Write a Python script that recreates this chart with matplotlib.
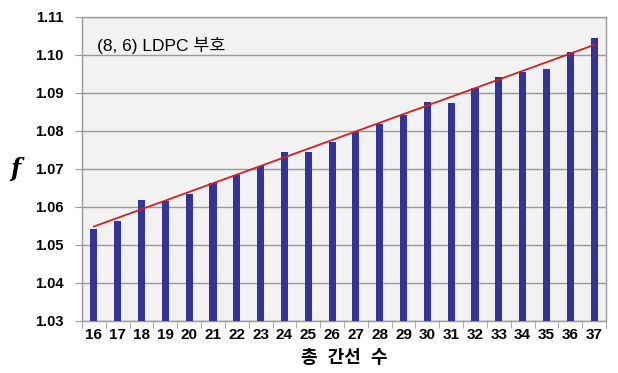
import numpy as np
import matplotlib
matplotlib.use('Agg')
import matplotlib.pyplot as plt

plt.rcParams['font.family'] = ['Liberation Sans', 'Noto Sans CJK KR']

# total number of edges vs. f for the (8, 6) LDPC code
edges = list(range(16, 38))
f_vals = [1.0542, 1.0563, 1.0619, 1.0617, 1.0635, 1.0664, 1.0683, 1.0709,
          1.0744, 1.0746, 1.0771, 1.0797, 1.0818, 1.0842, 1.0876, 1.0874,
          1.0913, 1.0942, 1.0954, 1.0963, 1.1009, 1.1045]
yticks = [1.03, 1.04, 1.05, 1.06, 1.07, 1.08, 1.09, 1.10, 1.11]

fig = plt.figure(figsize=(6.18, 3.73), dpi=100)
ax = fig.add_axes([82 / 618, 1 - 321 / 373, (606 - 82) / 618, (321 - 17) / 373])
ax.set_facecolor('#f2f2f2')

x = np.arange(len(edges))
ax.bar(x, f_vals, width=0.3, bottom=0, color='#333399', zorder=3)

# linear trend line over the bars
k, b = np.polyfit(x, f_vals, 1)
ax.plot(x, k * x + b, color='#d42020', lw=1.3, zorder=4)

ax.set_ylim(1.03, 1.11)
ax.set_xlim(-0.5, len(edges) - 0.5)
ax.set_yticks(yticks)
ax.set_yticklabels([f'{v:.2f}' for v in yticks], fontweight='bold', fontsize=10.5)
ax.yaxis.grid(True, color='#999999', lw=1.0, zorder=1)

# category labels centred, tick marks on category boundaries
ax.set_xticks(x)
ax.set_xticklabels([str(e) for e in edges], fontweight='bold', fontsize=11)
ax.tick_params(axis='x', length=0, pad=5)
ax.set_xticks(np.arange(-0.5, len(edges)), minor=True)
ax.tick_params(axis='x', which='minor', length=5, color='#999999')
ax.tick_params(axis='y', length=5, color='#999999', pad=8)

for side in ['left', 'bottom', 'right', 'top']:
    ax.spines[side].set_color('#999999')
    ax.spines[side].set_linewidth(1.0)

ax.text(0.028, 0.905, '(8, 6) LDPC 부호', transform=ax.transAxes, fontsize=12.5,
        va='center', ha='left')

ax.set_xlabel('총  간선  수', fontweight='bold', fontsize=13, labelpad=6)
ax.set_ylabel('f', fontstyle='italic', fontweight='bold', fontsize=17,
              family=['DejaVu Serif'], rotation=0, labelpad=14, va='center')

fig.savefig('out.png', dpi=100)
